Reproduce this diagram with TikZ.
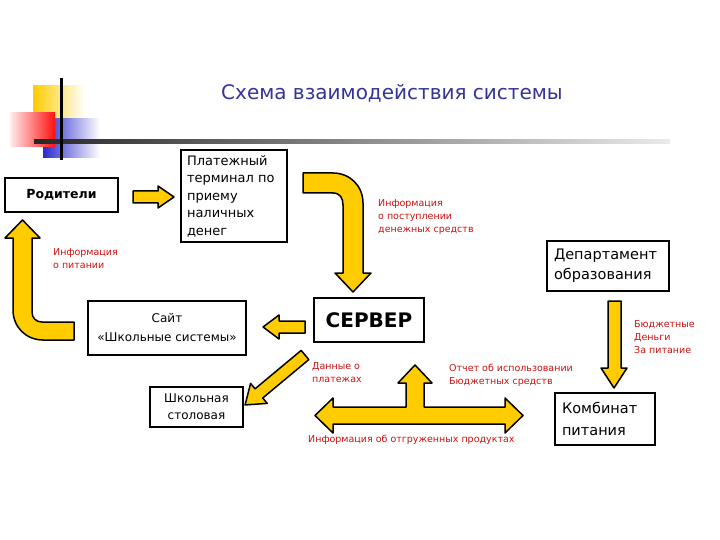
\documentclass[tikz,border=0pt]{standalone}
\usepackage{fontspec}
\setmainfont{DejaVu Sans}
\usepackage{xcolor}
\usepackage{tikz}
\definecolor{arrowyellow}{HTML}{FFCC00}
\definecolor{titleblue}{HTML}{333399}
\definecolor{notered}{HTML}{CC1111}
\definecolor{decoblue}{HTML}{2B2BCC}
\definecolor{decored}{HTML}{FF1010}
\tikzset{
  unitbox/.style={draw,rectangle,line width=1.5pt,inner sep=0pt},
  note/.style={text=notered,font=\fontsize{9.5}{13}\selectfont,align=left,anchor=north west,inner sep=0pt},
  blockarrow/.style={fill=arrowyellow,draw=black,line width=1.5pt,line join=round}
}

\begin{document}
\begin{tikzpicture}[x=1pt,y=-1pt]
\useasboundingbox (0,0) rectangle (720,540);

\shade[left color=arrowyellow,middle color=arrowyellow,right color=white] (33,86) rectangle (85,140);
\shade[left color=decoblue,middle color=decoblue!80,right color=white] (43,119) rectangle (100,158);
\shade[left color=decored!8,right color=decored] (10,113) rectangle (55,147);
\shade[left color=black!85,right color=black!8] (34,140) rectangle (670,143.5);
\draw[line width=2.5pt] (61.5,78) -- (61.5,160);

\node[text=titleblue,font=\fontsize{20}{24}\selectfont] (title) at (392,93) {Схема взаимодействия системы};

\node[unitbox,minimum width=113pt,minimum height=34pt,font=\bfseries\fontsize{12.5}{15}\selectfont] (par) at (61.5,195) {Родители};
\node[unitbox,minimum width=106pt,minimum height=92pt,text width=94pt,align=left,font=\fontsize{13}{17.5}\selectfont] (term) at (234,196) {Платежный\\терминал по\\приему\\наличных\\денег};
\node[unitbox,minimum width=110pt,minimum height=44pt,font=\bfseries\fontsize{20}{24}\selectfont] (srv) at (369,320) {СЕРВЕР};
\node[unitbox,minimum width=158pt,minimum height=54pt,align=center,font=\fontsize{12}{19}\selectfont] (site) at (167,328) {Сайт\\«Школьные системы»};
\node[unitbox,minimum width=93pt,minimum height=40pt,align=center,font=\fontsize{12}{17}\selectfont] (canteen) at (196.5,407) {Школьная\\столовая};
\node[unitbox,minimum width=122pt,minimum height=50pt,text width=108pt,align=left,font=\fontsize{14.5}{20}\selectfont] (dept) at (608,266) {Департамент\\образования};
\node[unitbox,minimum width=100pt,minimum height=52pt,text width=86pt,align=left,font=\fontsize{14.5}{22}\selectfont] (comb) at (605,419) {Комбинат\\питания};

\node[note] (n1) at (378,199) {Информация\\о поступлении\\денежных средств};
\node[note] (n2) at (53,248) {Информация\\о питании};
\node[note] (n3) at (634,320) {Бюджетные\\Деньги\\За питание};
\node[note] (n4) at (312,362) {Данные о\\платежах};
\node[note] (n5) at (449,364) {Отчет об использовании\\Бюджетных средств};
\node[note] (n6) at (308,435) {Информация об отгруженных продуктах};

\draw[blockarrow] (133,191) -- (158,191) -- (158,186) -- (174,197) -- (158,208) -- (158,203) -- (133,203) -- cycle;
\draw[blockarrow] (303,173) -- (333,173) .. controls (350,173) and (363,186) .. (363,203) -- (363,273) -- (371,273) -- (353,292) -- (335,273) -- (343,273) -- (343,205) .. controls (343,198) and (340,193) .. (333,193) -- (303,193) -- cycle;
\draw[blockarrow] (305,321) -- (279,321) -- (279,315) -- (263,327) -- (279,339) -- (279,333) -- (305,333) -- cycle;
\draw[blockarrow] (74,340) -- (43,340) .. controls (26,340) and (13,327) .. (13,310) -- (13,238) -- (5,238) -- (22.5,220) -- (40,238) -- (32,238) -- (32,312) .. controls (32,318) and (36,322) .. (42,322) -- (74,322) -- cycle;
\draw[blockarrow] (608,301) -- (621,301) -- (621,368) -- (627,368) -- (614,388) -- (601,368) -- (608,368) -- cycle;
\begin{scope}[shift={(305,355)},rotate=219.8]
\draw[blockarrow] (0,-6) -- (60,-6) -- (60,-13) -- (78,0) -- (60,13) -- (60,6) -- (0,6) -- cycle;
\end{scope}
\draw[blockarrow] (315,415.5) -- (333,398) -- (333,407) -- (406,407) -- (406,383) -- (398,383) -- (415,365) -- (432,383) -- (424,383) -- (424,407) -- (505,407) -- (505,398) -- (523,415.5) -- (505,433) -- (505,424) -- (333,424) -- (333,433) -- cycle;
\end{tikzpicture}
\end{document}
